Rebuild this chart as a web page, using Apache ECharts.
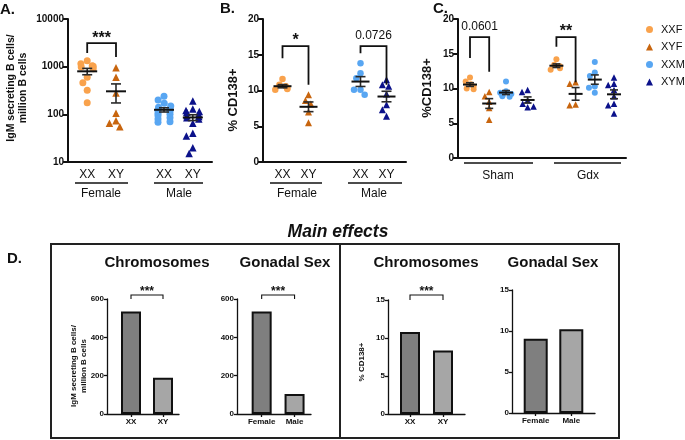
<!DOCTYPE html>
<html><head><meta charset="utf-8">
<script src="https://cdn.jsdelivr.net/npm/echarts@6/dist/echarts.min.js"></script>
<style>html,body{margin:0;padding:0;background:#fff}#c{width:685px;height:440px}</style>
</head><body><div id="c"></div>
<script>
// ---------- DATA ----------
// Panel A: IgM secreting B cells / million B cells (log scale)
const aXXF = [1330, 1150, 1050, 1020, 980, 900, 600, 460, 320, 175];
const aXYF = [950, 600, 280, 105, 73, 65, 55];
const aXXM = [240, 200, 170, 150, 140, 130, 120, 115, 105, 100, 95, 85, 80, 70, 68];
const aXYM = [190, 130, 120, 115, 110, 100, 95, 90, 85, 80, 65, 40, 35, 20, 15];
// Panel B: % CD138+
const bXXF = [11.6, 10.8, 10.6, 10.3, 10.1, 10.2];
const bXYF = [9.4, 8.6, 8.1, 7.0, 5.5];
const bXXM = [13.8, 12.4, 11.7, 10.1, 10.1, 9.4];
const bXYM = [11.5, 10.8, 10.6, 9.5, 8.0, 7.3, 6.4];
// Panel C: %CD138+ (Sham / Gdx)
const cShamXXF = [11.6, 11.0, 10.6, 10.3, 10.0, 9.9];
const cShamXYF = [9.5, 8.9, 8.1, 7.2, 5.5];
const cShamXXM = [11.0, 9.6, 9.4, 9.2, 9.0, 8.8, 8.9];
const cShamXYM = [9.8, 9.5, 8.3, 7.8, 7.3, 7.4];
const cGdxXXF = [14.2, 13.4, 13.2, 12.9, 12.7];
const cGdxXYF = [10.9, 10.7, 7.7, 7.6];
const cGdxXXM = [13.8, 12.3, 11.8, 10.3, 10.1, 9.4];
const cGdxXYM = [11.6, 10.7, 10.5, 9.8, 8.9, 7.8, 7.6, 6.4];
// Panel D: main effects
const dChromCats = ['XX', 'XY'];
const dSexCats = ['Female', 'Male'];
const dIgmChrom = [535, 189];
const dIgmSex = [535, 105];
const dCdChrom = [10.8, 8.35];
const dCdSex = [9.05, 10.2];
// Tick / group labels
const groupNames = ['XXF', 'XYF', 'XXM', 'XYM'];
const pairLabels = ['XX', 'XY', 'XX', 'XY'];
const sexLabels = ['Female', 'Male'];
const surgLabels = ['Sham', 'Gdx'];
// Significance labels
const sigA = ['***'];
const sigB = ['*', '0.0726'];
const sigC = ['0.0601', '**'];
const sigD = ['***', '***', '***'];

// ---------- STYLE / LAYOUT ----------
const colors = {XXF: '#F9A24C', XYF: '#C8650E', XXM: '#58A6F2', XYM: '#0B118A'};
const symbols = {XXF: 'circle', XYF: 'triangle', XXM: 'circle', XYM: 'triangle'};
const barColors = ['#7f7f7f', '#a6a6a6'];
const L = {
  A: {grid: {left: 68, top: 19, width: 144, height: 143}, n: 16, pos: [2, 5, 10, 13], size: 7, swarm: 20},
  B: {grid: {left: 263, top: 19, width: 143, height: 143}, n: 23, pos: [3, 7, 15, 19], size: 6.5, swarm: 16},
  C: {grid: {left: 458, top: 19, width: 168, height: 139}, n: 71, pos: [5, 13, 20, 29, 41, 49, 57, 65], size: 6, swarm: 12},
  D1: {grid: {left: 107, top: 299, width: 72, height: 115}, n: 10, pos: [3, 7]},
  D2: {grid: {left: 237, top: 299, width: 74, height: 115}, n: 10, pos: [3, 7]},
  D3: {grid: {left: 388, top: 300, width: 77, height: 114}, n: 15, pos: [4, 10]},
  D4: {grid: {left: 512, top: 290, width: 83, height: 123}, n: 15, pos: [4, 10]}
};
const INK = '#111';
const FF = 'Liberation Sans, Arial, sans-serif';

function stats(a) {
  const m = a.reduce((s, v) => s + v, 0) / a.length;
  const v = a.reduce((s, x) => s + (x - m) * (x - m), 0) / (a.length - 1);
  return [m, Math.sqrt(v / a.length)];
}
function cats(n) { return Array.from({length: n}, (_, i) => 'c' + i); }
function fmtFor(pos, labels) {
  return function (val) {
    const i = +String(val).slice(1);
    const k = pos.indexOf(i);
    return k >= 0 && labels ? labels[k] : '';
  };
}

const grids = [], xAxes = [], yAxes = [], series = [];
const swarmSeries = [];
function addGrid(key) {
  grids.push(Object.assign({outerBoundsMode: 'none', containLabel: false}, L[key].grid));
  return grids.length - 1;
}
function sciXAxis(gi, key, labels) {
  const pos = L[key].pos;
  xAxes.push({
    gridIndex: gi, type: 'category', data: cats(L[key].n), boundaryGap: false,
    axisLine: {show: true, onZero: false, lineStyle: {color: INK, width: 2}},
    axisTick: {show: false},
    axisLabel: {interval: 0, formatter: fmtFor(pos, labels), fontSize: 12, color: INK, margin: 7, fontFamily: FF},
    splitLine: {show: false}
  });
}
function valYAxis(gi, opt, fs, lw) {
  yAxes.push(Object.assign({
    gridIndex: gi,
    axisLine: {show: true, lineStyle: {color: INK, width: lw}},
    axisTick: {show: true, length: fs > 9 ? 5 : 3, lineStyle: {color: INK, width: lw}},
    axisLabel: {fontSize: fs, fontWeight: 'bold', color: INK, margin: fs > 9 ? 4 : 3, fontFamily: FF},
    splitLine: {show: false}
  }, opt));
}
function errRender(mh, ch) {
  return function (params, api) {
    const x = api.value(0), m = api.value(1), s = api.value(2);
    const c = api.coord([x, m]), hi = api.coord([x, m + s]), lo = api.coord([x, m - s]);
    const st = {stroke: '#2a2a2a', lineWidth: 1.6, fill: null};
    return {type: 'group', children: [
      {type: 'line', shape: {x1: hi[0], y1: hi[1], x2: lo[0], y2: lo[1]}, style: st},
      {type: 'line', shape: {x1: hi[0] - ch, y1: hi[1], x2: hi[0] + ch, y2: hi[1]}, style: st},
      {type: 'line', shape: {x1: lo[0] - ch, y1: lo[1], x2: lo[0] + ch, y2: lo[1]}, style: st},
      {type: 'line', shape: {x1: c[0] - mh, y1: c[1], x2: c[0] + mh, y2: c[1]}, style: {stroke: INK, lineWidth: 2, fill: null}}
    ]};
  };
}
function bracketRender(labels, font, dy, lw) {
  return function (params, api) {
    const x1 = api.value(0), x2 = api.value(1), top = api.value(2), l = api.value(3), r = api.value(4);
    const p1 = api.coord([x1, l]), p2 = api.coord([x1, top]), p3 = api.coord([x2, top]), p4 = api.coord([x2, r]);
    const txt = labels[params.dataIndex];
    return {type: 'group', children: [
      {type: 'polyline', shape: {points: [p1, p2, p3, p4]}, style: {stroke: INK, lineWidth: lw, fill: null}},
      {type: 'text', style: {text: txt, x: (p2[0] + p3[0]) / 2, y: p2[1] - dy(txt),
        font: font(txt), fill: INK, align: 'center', textAlign: 'center', verticalAlign: 'middle', textVerticalAlign: 'middle'}}
    ]};
  };
}
function sigFont(big, small) { return t => (t.indexOf('*') >= 0 ? big : small); }

// ----- Panel A -----
const gA = addGrid('A');
sciXAxis(gA, 'A', pairLabels);
yAxes.push({
  gridIndex: gA, type: 'log', logBase: 10, min: 10, max: 10000,
  axisLine: {show: true, lineStyle: {color: INK, width: 2}},
  axisTick: {show: true, length: 5, lineStyle: {color: INK, width: 2}},
  minorTick: {show: false},
  axisLabel: {fontSize: 10, fontWeight: 'bold', color: INK, margin: 4, formatter: v => String(Math.round(v)), fontFamily: FF},
  splitLine: {show: false}
});
// ----- Panel B -----
const gB = addGrid('B');
sciXAxis(gB, 'B', pairLabels);
valYAxis(gB, {type: 'value', min: 0, max: 20, interval: 5}, 10, 2);
// ----- Panel C -----
const gC = addGrid('C');
sciXAxis(gC, 'C', null);
valYAxis(gC, {type: 'value', min: 0, max: 20, interval: 5}, 10, 2);

function addScatter(gi, key, groups, names) {
  const size = L[key].size;
  groups.forEach((arr, k) => {
    const nm = names[k];
    swarmSeries.push({si: series.length, gi: gi, x: L[key].pos[k], values: arr, d: size * 1.0, maxW: L[key].swarm});
    series.push({
      type: 'scatter', name: nm, xAxisIndex: gi, yAxisIndex: gi,
      symbol: symbols[nm], symbolSize: symbols[nm] === 'triangle' ? size + 0.5 : size,
      itemStyle: {color: colors[nm], opacity: 1}, z: 2, silent: true,
      data: arr.map(v => ({value: [L[key].pos[k], v]}))
    });
  });
  series.push({
    type: 'custom', xAxisIndex: gi, yAxisIndex: gi, z: 5, silent: true,
    renderItem: errRender(key === 'A' ? 10 : key === 'B' ? 9 : 7, key === 'C' ? 4 : 5),
    encode: {x: 0, y: 1},
    data: groups.map((arr, k) => [L[key].pos[k]].concat(stats(arr)))
  });
}
addScatter(gA, 'A', [aXXF, aXYF, aXXM, aXYM], groupNames);
addScatter(gB, 'B', [bXXF, bXYF, bXXM, bXYM], groupNames);
addScatter(gC, 'C', [cShamXXF, cShamXYF, cShamXXM, cShamXYM, cGdxXXF, cGdxXYF, cGdxXXM, cGdxXYM],
  groupNames.concat(groupNames));

// brackets: [x1, x2, top, leftEnd, rightEnd]
const pA = L.A.pos, pB = L.B.pos, pC = L.C.pos;
const bigF = 'bold 16px ' + FF, smallF = '12px ' + FF;
series.push({type: 'custom', xAxisIndex: gA, yAxisIndex: gA, z: 6, silent: true, encode: {x: 0, y: 2},
  renderItem: bracketRender(sigA, sigFont(bigF, smallF), t => 4.5, 1.8),
  data: [[pA[0], pA[1], 3130, 1940, 1590]]});
series.push({type: 'custom', xAxisIndex: gB, yAxisIndex: gB, z: 6, silent: true, encode: {x: 0, y: 2},
  renderItem: bracketRender(sigB, sigFont(bigF, smallF), t => (t.indexOf('*') >= 0 ? 5.5 : 10), 1.8),
  data: [[pB[0], pB[1], 16.2, 14.5, 10.8], [pB[2], pB[3], 16.2, 15.2, 10.8]]});
series.push({type: 'custom', xAxisIndex: gC, yAxisIndex: gC, z: 6, silent: true, encode: {x: 0, y: 2},
  renderItem: bracketRender(sigC, sigFont(bigF, smallF), t => (t.indexOf('*') >= 0 ? 5.5 : 10), 1.8),
  data: [[pC[0], pC[1], 17.4, 14.4, 12.4], [pC[4], pC[5], 17.4, 16.0, 10.9]]});

// ----- Panel D -----
function addBarChart(key, catsLbl, vals, yopt, bw, sig, brk) {
  const gi = addGrid(key);
  const pos = L[key].pos;
  xAxes.push({
    gridIndex: gi, type: 'category', data: cats(L[key].n), boundaryGap: false,
    axisLine: {show: true, onZero: false, lineStyle: {color: INK, width: 1.3}},
    axisTick: {show: true, length: 3, interval: i => pos.indexOf(i) >= 0, lineStyle: {color: INK, width: 1.3}},
    axisLabel: {interval: 0, formatter: fmtFor(pos, catsLbl), fontSize: 8, fontWeight: 'bold', color: INK, margin: 4, fontFamily: FF},
    splitLine: {show: false}
  });
  valYAxis(gi, Object.assign({type: 'value', min: 0}, yopt), 8, 1.3);
  series.push({
    type: 'bar', xAxisIndex: gi, yAxisIndex: gi, barWidth: bw, silent: true,
    data: vals.map((v, k) => ({value: [pos[k], v], itemStyle: {color: barColors[k], borderColor: INK, borderWidth: 2}}))
  });
  if (brk) {
    series.push({type: 'custom', xAxisIndex: gi, yAxisIndex: gi, z: 6, silent: true, encode: {x: 0, y: 2},
      renderItem: bracketRender([sig], () => 'bold 12px ' + FF, () => 3.5, 1.1),
      data: [[pos[0], pos[1]].concat(brk)]});
  }
}
addBarChart('D1', dChromCats, dIgmChrom, {max: 600, interval: 200}, 20, sigD[0], [621, 600, 600]);
addBarChart('D2', dSexCats, dIgmSex, {max: 600, interval: 200}, 20, sigD[1], [621, 600, 600]);
addBarChart('D3', dChromCats, dCdChrom, {max: 15, interval: 5}, 20, sigD[2], [15.66, 15, 15]);
addBarChart('D4', dSexCats, dCdSex, {max: 15, interval: 5}, 24, null, null);

// ---------- GRAPHICS (titles, group lines) ----------
function T(text, x, y, font, opt) {
  return Object.assign({type: 'text', x: x, y: y, silent: true, style: Object.assign({
    text: text, font: font, fill: INK, align: 'center', textAlign: 'center',
    verticalAlign: 'middle', textVerticalAlign: 'middle'}, (opt && opt.style) || {})},
    opt && opt.rot ? {rotation: Math.PI / 2} : {});
}
function Ln(x1, y1, x2, y2, w) {
  return {type: 'line', silent: true, shape: {x1: x1, y1: y1, x2: x2, y2: y2}, style: {stroke: INK, lineWidth: w || 1.6}};
}
const leftTxt = {style: {align: 'left', textAlign: 'left'}};
const graphics = [
  T('A.', 0, 10, 'bold 15px ' + FF, leftTxt),
  T('B.', 220, 9, 'bold 15px ' + FF, leftTxt),
  T('C.', 433, 9, 'bold 15px ' + FF, leftTxt),
  T('D.', 7, 259, 'bold 15px ' + FF, leftTxt),
  T('IgM secreting B cells/\nmillion B cells', 17, 88, 'bold 10.5px ' + FF, {rot: true, style: {lineHeight: 12}}),
  T('% CD138+', 233, 100, 'bold 13px ' + FF, {rot: true}),
  T('%CD138+', 427, 88, 'bold 13px ' + FF, {rot: true}),
  Ln(75, 183, 128, 183), Ln(154, 183, 203, 183),
  T(sexLabels[0], 101, 194, '12px ' + FF), T(sexLabels[1], 179, 194, '12px ' + FF),
  Ln(270, 183, 322, 183), Ln(348, 183, 402, 183),
  T(sexLabels[0], 297, 194, '12px ' + FF), T(sexLabels[1], 374, 194, '12px ' + FF),
  Ln(464, 163, 533, 163), Ln(554, 163, 621, 163),
  T(surgLabels[0], 498, 176, '12px ' + FF), T(surgLabels[1], 588, 176, '12px ' + FF),
  T('Main effects', 338, 232, 'italic bold 17.5px ' + FF),
  {type: 'rect', silent: true, shape: {x: 51, y: 244, width: 289, height: 194}, style: {fill: 'none', stroke: '#222', lineWidth: 2}},
  {type: 'rect', silent: true, shape: {x: 340, y: 244, width: 279, height: 194}, style: {fill: 'none', stroke: '#222', lineWidth: 2}},
  T('Chromosomes', 157, 263, 'bold 15px ' + FF), T('Gonadal Sex', 285, 263, 'bold 15px ' + FF),
  T('Chromosomes', 426, 263, 'bold 15px ' + FF), T('Gonadal Sex', 553, 263, 'bold 15px ' + FF),
  T('IgM secreting B cells/\nmillion B cells', 79, 366, 'bold 8px ' + FF, {rot: true, style: {lineHeight: 10}}),
  T('% CD138+', 362, 362, 'bold 8px ' + FF, {rot: true})
];

const chart = echarts.init(document.getElementById('c'), null, {renderer: 'canvas', width: 685, height: 440});
chart.setOption({
  animation: false,
  backgroundColor: '#fff',
  textStyle: {fontFamily: FF},
  grid: grids, xAxis: xAxes, yAxis: yAxes, series: series,
  legend: {
    orient: 'vertical', left: 641, top: 19, itemWidth: 7, itemHeight: 7, itemGap: 6.5,
    textStyle: {fontSize: 11, color: INK, padding: [0, 0, 0, 3]},
    selectedMode: false,
    data: groupNames.map(n => ({name: n, icon: symbols[n]}))
  },
  graphic: graphics
});

// Column-scatter layout: horizontal pixel offsets so points don't pile up,
// computed from each point's pixel height on the library's own y scale.
swarmSeries.forEach(g => {
  const placed = [];
  const res = new Array(g.values.length).fill(0);
  g.values.forEach((val, i) => {
    const py = chart.convertToPixel({xAxisIndex: g.gi, yAxisIndex: g.gi}, [g.x, val])[1];
    const cands = [0];
    placed.forEach(p => {
      const dy = Math.abs(py - p.y);
      if (dy < g.d) {
        const w = Math.sqrt(g.d * g.d - dy * dy);
        cands.push(p.x + w, p.x - w);
      }
    });
    cands.sort((a, b) => Math.abs(a) - Math.abs(b) || a - b);
    let best = null;
    for (const c of cands) {
      if (Math.abs(c) > g.maxW / 2 + 0.01) continue;
      const ok = placed.every(p => (c - p.x) * (c - p.x) + (py - p.y) * (py - p.y) >= g.d * g.d - 0.01);
      if (ok) { best = c; break; }
    }
    if (best === null) best = (placed.length % 2 ? 1 : -1) * g.maxW / 2 * 0.6;
    placed.push({x: best, y: py});
    res[i] = best;
  });
  series[g.si].data = g.values.map((v, i) => ({value: [g.x, v], symbolOffset: [res[i], 0]}));
});
chart.setOption({series: series});
</script>
</body></html>
